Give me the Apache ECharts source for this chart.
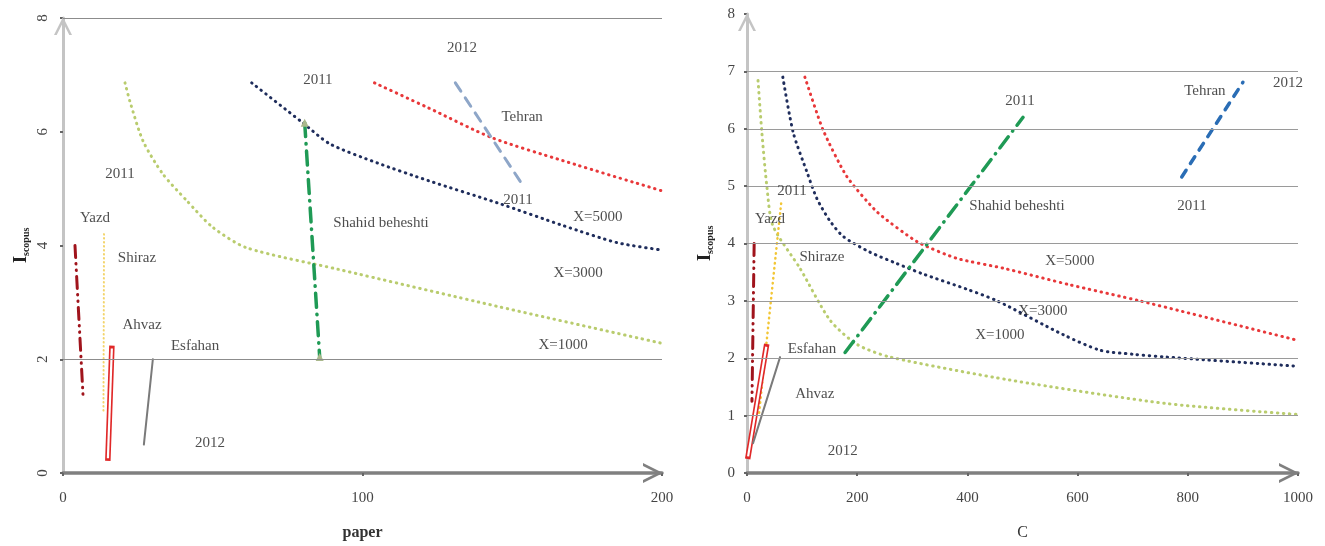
<!DOCTYPE html>
<html>
<head>
<meta charset="utf-8">
<script src="https://cdn.jsdelivr.net/npm/echarts@6/dist/echarts.min.js"></script>
<style>
  html, body { margin: 0; padding: 0; background: #ffffff; }
  #chart { width: 1325px; height: 546px; }
</style>
</head>
<body>
<div id="chart"></div>
<script>
// ---- Left panel: I_scopus against paper count ----
const paperYazd    = [[4.0, 4.0], [6.7, 1.35]];
const paperShiraz  = [[13.7, 4.2], [13.5, 1.05]];
const paperAhvaz   = [[15.0, 0.26], [16.3, 2.19]];
const paperEsfahan = [[27.0, 0.5], [30.0, 2.0]];
const paperShahid  = [[80.7, 6.16], [85.7, 2.04]];
const paperTehran  = [[131, 6.86], [153, 5.1]];
const paperX1000 = [[20.7, 6.86], [22.3, 6.54], [26.7, 5.84], [33.3, 5.26], [41.3, 4.79], [50, 4.32], [61.3, 3.96], [92, 3.58], [145, 2.93], [200, 2.28]];
const paperX3000 = [[63, 6.86], [80, 6.16], [89, 5.79], [105, 5.45], [122, 5.14], [145, 4.75], [167, 4.35], [185, 4.05], [200, 3.92]];
const paperX5000 = [[104, 6.86], [122, 6.42], [143, 5.9], [167, 5.49], [200, 4.96]];
const paperGridValues = [2, 8];
const paperNotes = [
  [85.1, 6.91, '2011'], [133.2, 7.47, '2012'], [153.3, 6.26, 'Tehran'], [151.9, 4.80, '2011'],
  [178.6, 4.50, 'X=5000'], [172, 3.51, 'X=3000'], [106.2, 4.39, 'Shahid beheshti'],
  [19, 5.25, '2011'], [10.7, 4.48, 'Yazd'], [24.7, 3.78, 'Shiraz'], [26.4, 2.60, 'Ahvaz'],
  [44.1, 2.23, 'Esfahan'], [49.1, 0.53, '2012'], [167, 2.25, 'X=1000']
];

// ---- Right panel: I_scopus against C ----
const cYazd    = [[13, 4.0], [9, 1.25]];
const cShiraz  = [[22, 1.05], [62, 4.7]];
const cAhvaz   = [[2, 0.29], [35, 2.2]];
const cEsfahan = [[11, 0.52], [60, 2.02]];
const cShahid  = [[178, 2.1], [501, 6.2]];
const cTehran  = [[789, 5.16], [900, 6.81]];
const cX1000 = [[20, 6.84], [27, 5.93], [36, 5.0], [47, 4.31], [96, 3.57], [151, 2.66], [200, 2.24], [260, 2.02], [477, 1.62], [762, 1.21], [1000, 1.02]];
const cX3000 = [[65, 6.9], [84, 5.93], [109, 5.24], [127, 4.78], [150, 4.4], [175, 4.12], [223, 3.85], [272, 3.65], [319, 3.47], [400, 3.2], [454, 3.0], [574, 2.41], [641, 2.14], [700, 2.07], [762, 2.02], [1000, 1.86]];
const cX5000 = [[105, 6.9], [138, 5.98], [181, 5.17], [236, 4.55], [309, 4.03], [381, 3.74], [465, 3.57], [586, 3.28], [713, 3.0], [1000, 2.31]];
const cGridValues = [1, 2, 3, 4, 5, 6, 7];
const cNotes = [
  [495.5, 6.48, '2011'], [831, 6.65, 'Tehran'], [982, 6.80, '2012'], [807.6, 4.66, '2011'],
  [490, 4.66, 'Shahid beheshti'], [586, 3.70, 'X=5000'], [537, 2.83, 'X=3000'], [459, 2.40, 'X=1000'],
  [81.7, 4.92, '2011'], [41.7, 4.42, 'Yazd'], [136, 3.77, 'Shiraze'], [118, 2.16, 'Esfahan'],
  [123, 1.38, 'Ahvaz'], [174, 0.38, '2012']
];

const SERIF = '"Liberation Serif", "DejaVu Serif", serif';
// open arrowhead drawn at the far end of each axis line
const CHEVRON = 'path://M0,20 L10,0 L20,20 L17,20 L10,6 L3,20 Z';

function xAxisCfg(idx, max, interval, name, bold) {
  return {
    type: 'value', gridIndex: idx, min: 0, max: max, interval: interval,
    name: name, nameLocation: 'middle', nameGap: 52,
    nameTextStyle: { fontFamily: SERIF, fontSize: 16, color: '#333', fontWeight: bold ? 'bold' : 'normal' },
    axisLine: { show: true, lineStyle: { color: '#808080', width: 3.5 },
      symbol: ['none', CHEVRON], symbolSize: [20, 20], symbolOffset: [0, -9] },
    axisTick: { show: true, length: 3, lineStyle: { color: '#666', width: 2 } },
    axisLabel: { fontFamily: SERIF, fontSize: 15, color: '#444', margin: 18, formatter: v => String(v) },
    splitLine: { show: false }
  };
}

function yAxisCfg(idx, interval, rotate) {
  return {
    type: 'value', gridIndex: idx, min: 0, max: 8, interval: interval,
    name: '{i|I}{s|scopus}', nameLocation: 'middle', nameGap: 32, nameRotate: 90,
    nameTextStyle: { rich: {
      i: { fontFamily: SERIF, fontSize: 19, fontWeight: 'bold', color: '#222' },
      s: { fontFamily: SERIF, fontSize: 10, fontWeight: 'bold', color: '#222', verticalAlign: 'bottom', padding: [8, 0, 0, 0] }
    } },
    axisLine: { show: true, lineStyle: { color: '#c4c4c4', width: 3 },
      symbol: ['none', CHEVRON], symbolSize: [18, 18], symbolOffset: [0, -8] },
    axisTick: { show: true, length: 3, lineStyle: { color: '#666', width: 2 } },
    axisLabel: { fontFamily: SERIF, fontSize: 15, color: '#444', margin: 12, rotate: rotate, formatter: v => String(v) },
    splitLine: { show: false }
  };
}

function gridLines(idx, values, color) {
  return {
    type: 'line', xAxisIndex: idx, yAxisIndex: idx, data: [], silent: true, z: 1,
    markLine: {
      silent: true, symbol: ['none', 'none'], label: { show: false },
      lineStyle: { color: color, width: 1.2, type: 'solid' },
      data: values.map(v => ({ yAxis: v }))
    }
  };
}

function path(idx, data, color, width, type, extra) {
  return Object.assign({
    type: 'line', xAxisIndex: idx, yAxisIndex: idx, data: data,
    showSymbol: false, symbol: 'none', smooth: false, silent: true, z: 3,
    lineStyle: { color: color, width: width, type: type, cap: 'round' }
  }, extra || {});
}

function notes(idx, data) {
  return {
    type: 'scatter', xAxisIndex: idx, yAxisIndex: idx, data: data, symbolSize: 1, silent: true, z: 5,
    itemStyle: { color: 'rgba(0,0,0,0)' },
    label: { show: true, position: 'inside', formatter: p => p.value[2],
      fontFamily: SERIF, fontSize: 15, color: '#222' }
  };
}

const DOT = [0.5, 5.5];
const chart = echarts.init(document.getElementById('chart'), null, { renderer: 'canvas' });
chart.setOption({
  backgroundColor: '#ffffff',
  animation: false,
  grid: [
    { left: 63, top: 18, width: 599, height: 455 },
    { left: 747, top: 14, width: 551, height: 463 }
  ],
  xAxis: [xAxisCfg(0, 200, 100, 'paper', true), xAxisCfg(1, 1000, 200, 'C', false)],
  yAxis: [yAxisCfg(0, 2, 90), yAxisCfg(1, 1, 0)],
  series: [
    gridLines(0, paperGridValues, '#8c8c8c'),
    gridLines(1, cGridValues, '#9a9a9a'),

    path(0, paperX1000, '#b9cc6e', 3, DOT, { smooth: 0.25 }),
    path(0, paperX3000, '#1f2d5c', 3, DOT, { smooth: 0.25 }),
    path(0, paperX5000, '#e8383a', 3, DOT, { smooth: 0.25 }),
    path(0, paperShiraz, '#f3d46a', 2, [0.5, 3.5]),
    path(0, paperYazd, '#a0141c', 3, [12, 6, 0.5, 6, 0.5, 6]),
    path(0, paperAhvaz, '#e02828', 5.5, 'solid', { lineStyle: { color: '#e02828', width: 5.5, cap: 'square' } }),
    path(0, paperAhvaz, '#ffffff', 2.2, 'solid', { z: 4, lineStyle: { color: '#ffffff', width: 2.2, cap: 'butt' } }),
    path(0, paperEsfahan, '#7a7a7a', 2, 'solid'),
    path(0, paperShahid, '#1f9a55', 3.5, [14, 7, 0.5, 7], {
      showSymbol: true, symbol: 'triangle', symbolSize: 8, itemStyle: { color: '#aab88c' } }),
    path(0, paperTehran, '#8ea6c8', 3, [10, 8]),

    path(1, cX1000, '#b9cc6e', 3, DOT, { smooth: 0.25 }),
    path(1, cX3000, '#1f2d5c', 3, DOT, { smooth: 0.25 }),
    path(1, cX5000, '#e8383a', 3, DOT, { smooth: 0.2 }),
    path(1, cShiraz, '#f2c636', 2.5, [0.5, 4.5]),
    path(1, cYazd, '#a0141c', 3, [12, 6, 0.5, 6, 0.5, 6]),
    path(1, cAhvaz, '#e02828', 5.5, 'solid', { lineStyle: { color: '#e02828', width: 5.5, cap: 'square' } }),
    path(1, cAhvaz, '#ffffff', 2.2, 'solid', { z: 4, lineStyle: { color: '#ffffff', width: 2.2, cap: 'butt' } }),
    path(1, cEsfahan, '#7a7a7a', 2, 'solid'),
    path(1, cShahid, '#1f9a55', 3.5, [14, 7, 0.5, 7]),
    path(1, cTehran, '#2a6db5', 3.5, [8, 8]),

    notes(0, paperNotes),
    notes(1, cNotes)
  ]
});
</script>
</body>
</html>
